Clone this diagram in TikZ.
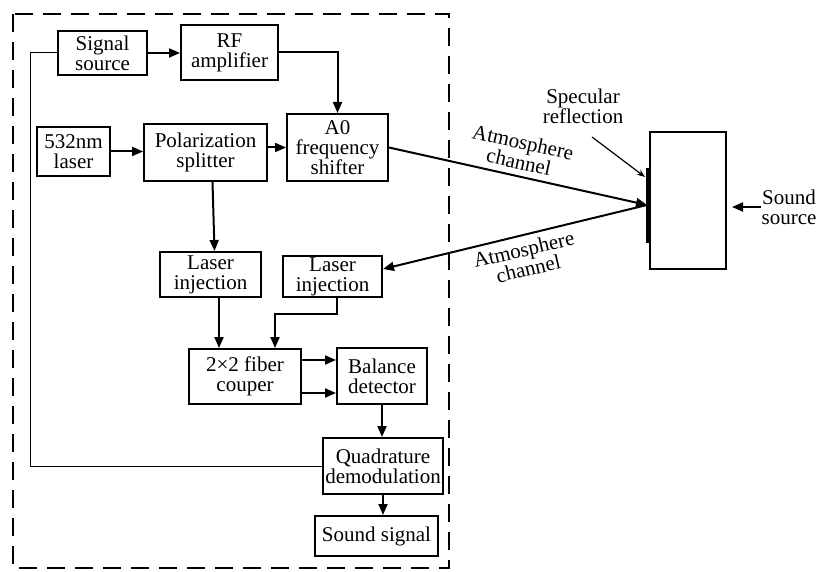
\documentclass[tikz,border=0pt]{standalone}
\usepackage{fontspec}
\setmainfont{Liberation Serif}
\newfontfamily\tnr{Liberation Serif}
\usetikzlibrary{arrows.meta,calc}
\begin{document}
\begin{tikzpicture}[x=1pt,y=-1pt,
  box/.style={draw,line width=2pt,inner sep=0pt,align=center,font=\tnr\fontsize{21}{20}\selectfont},
  lbl/.style={inner sep=0pt,align=center,font=\tnr\fontsize{21}{20}\selectfont},
  arr/.style={line width=2pt,-{Triangle[length=11pt,width=9pt]}},
  thinarr/.style={line width=1.2pt,-{Stealth[length=8pt,width=6pt]}},
  frame/.style={line width=2.6pt,dash pattern=on 18pt off 10pt},
]
\useasboundingbox (0,0) rectangle (819,572);
% frame
\draw[frame] (13,14) rectangle (449,568);
% boxes
\node[box,minimum width=89pt,minimum height=44pt] (sig) at (102.5,53) {Signal\\source};
\node[box,minimum width=97pt,minimum height=55pt] (rf) at (229.5,52.5) {RF\\amplifier};
\node[box,minimum width=101pt,minimum height=67pt] (ao) at (337.5,147.5) {A0\\frequency\\shifter};
\node[box,minimum width=73pt,minimum height=49pt] (las) at (73.5,151.5) {532nm\\laser};
\node[box,minimum width=123pt,minimum height=57pt] (pol) at (205.5,152.5) {Polarization\\splitter};
\node[box,minimum width=101pt,minimum height=45pt] (li1) at (210.5,274.5) {Laser\\injection};
\node[box,minimum width=99pt,minimum height=41pt] (li2) at (332.5,276.5) {Laser\\injection};
\node[box,minimum width=112pt,minimum height=55pt] (fib) at (245,376.5) {2×2 fiber\\couper};
\node[box,minimum width=90pt,minimum height=56pt] (bal) at (382,376) {Balance\\detector};
\node[box,minimum width=120pt,minimum height=56pt] (qd) at (383,466) {Quadrature\\demodulation};
\node[box,minimum width=123pt,minimum height=40pt] (ss) at (376.5,536) {Sound signal};
\node[box,minimum width=76pt,minimum height=137pt] (tgt) at (688,200.5) {};
% labels
\node[lbl] (spec) at (583,106) {Specular\\reflection};
\node[lbl] (snd) at (789,207) {Sound\\source};
\node[lbl,rotate=-12.4] (atm1) at (521,152) {Atmosphere\\channel};
\node[lbl,rotate=13] (atm2) at (526,259) {Atmosphere\\channel};
% coordinates
\coordinate (refl) at (647,205);
\coordinate (fb) at (30,466);
\coordinate (barT) at (648,168);
\coordinate (barB) at (648,243);
\coordinate (sp1) at (592,137);
\coordinate (sp2) at (645,177);
% mirror bar
\draw[line width=3.2pt] (barT) -- (barB);
% connectors
\draw[arr] (sig.east) -- (sig.east -| rf.west);
\draw[arr] (rf.east) -| (ao.north);
\draw[arr] (las.east) -- (las.east -| pol.west);
\draw[arr] (pol.east |- ao.west) -- (ao.west);
\draw[arr] ([xshift=7pt]pol.south) -- ([xshift=4pt]li1.north);
\draw[arr] ([xshift=8.5pt]li1.south) -- ([xshift=8.5pt]li1.south |- fib.north);
\draw[arr] ([xshift=4.5pt]li2.south) -- ++(0,16) -| ([xshift=30pt]fib.north);
\draw[arr] ([yshift=16.5pt]fib.east) -- ([yshift=16.5pt]fib.east -| bal.west);
\draw[arr] ([yshift=-16.5pt]fib.east) -- ([yshift=-16.5pt]fib.east -| bal.west);
\draw[arr] (bal.south) -- (bal.south |- qd.north);
\draw[arr] (qd.south) -- (qd.south |- ss.north);
\draw[line width=1pt] (qd.west) -- (fb) |- (sig.west);
\draw[arr] (ao.east) -- (refl);
\draw[arr] (refl) -- ([yshift=7.5pt]li2.east);
\draw[arr] (snd.west) -- ([xshift=5pt]tgt.east |- snd.west);
\draw[thinarr] (sp1) -- (sp2);
\end{tikzpicture}
\end{document}
